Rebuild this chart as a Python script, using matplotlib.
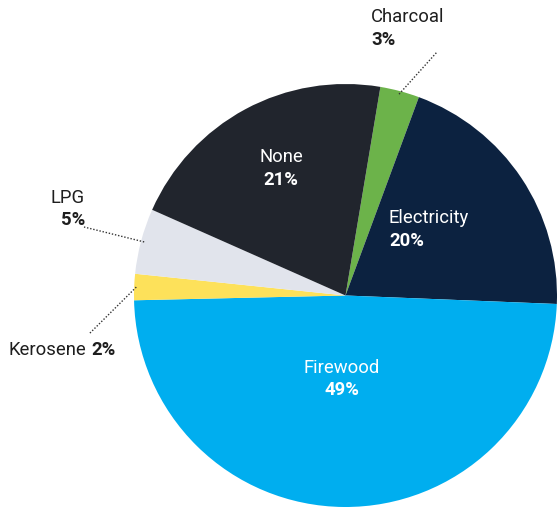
import matplotlib
matplotlib.use("Agg")
import matplotlib.pyplot as plt
import numpy as np

plt.rcParams['font.family'] = ['Roboto', 'DejaVu Sans']

categories = ["Charcoal", "Electricity", "Firewood", "Kerosene", "LPG", "None"]
shares = [3, 20, 49, 2, 5, 21]
colors = ["#6cb34a", "#0c2240", "#00aeef", "#fde15a", "#e1e4ec", "#21252d"]

W, H = 557, 508
fig = plt.figure(figsize=(W / 100, H / 100), dpi=100)
ax = fig.add_axes([0, 0, 1, 1])

cx, cy, r = 345.5, H - 295.5, 211.5
start = 80.5
wedges, _ = ax.pie(shares, colors=colors, startangle=start, counterclock=False,
                   center=(cx, cy), radius=r, frame=True,
                   wedgeprops=dict(linewidth=0))
ax.set_xlim(0, W)
ax.set_ylim(0, H)
ax.set_aspect('equal')
ax.axis('off')

def mid_point(i, frac):
    w = wedges[i]
    ang = np.deg2rad((w.theta1 + w.theta2) / 2)
    return cx + r * frac * np.cos(ang), cy + r * frac * np.sin(ang)

fs = 13.3
dark = "#1e1e1e"

# labels inside the large slices
ax.text(281, H - 157, "None", color="white", fontsize=fs, ha="center", va="center")
ax.text(281, H - 180, "21%", color="white", fontsize=fs, ha="center", va="center", fontweight="bold")
ax.text(389, H - 218, "Electricity", color="white", fontsize=fs, ha="left", va="center")
ax.text(389, H - 241, "20%", color="white", fontsize=fs, ha="left", va="center", fontweight="bold")
ax.text(342, H - 368, "Firewood", color="white", fontsize=fs, ha="center", va="center")
ax.text(342, H - 390, "49%", color="white", fontsize=fs, ha="center", va="center", fontweight="bold")

# outside labels with dotted leaders
line_kw = dict(color="#333333", linestyle=(0, (1, 1.3)), linewidth=1)

px, py = mid_point(0, 0.985)
ax.plot([px, 437], [py, H - 52], **line_kw)
ax.text(371, H - 17, "Charcoal", color=dark, fontsize=fs, ha="left", va="center")
ax.text(371, H - 40, "3%", color=dark, fontsize=fs, ha="left", va="center", fontweight="bold")

px, py = mid_point(4, 0.985)
ax.plot([px, 84], [py, H - 227], **line_kw)
ax.text(85, H - 198, "LPG", color=dark, fontsize=fs, ha="right", va="center")
ax.text(85, H - 220, "5%", color=dark, fontsize=fs, ha="right", va="center", fontweight="bold")

px, py = mid_point(3, 0.99)
ax.plot([px, 89], [py, H - 334], **line_kw)
ax.text(86, H - 350, "Kerosene", color=dark, fontsize=fs, ha="right", va="center")
ax.text(91, H - 350, "2%", color=dark, fontsize=fs, ha="left", va="center", fontweight="bold")

fig.savefig("out.png", dpi=100)
